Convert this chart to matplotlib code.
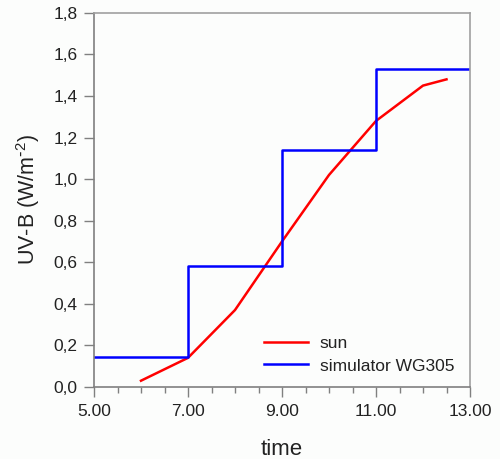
import matplotlib
matplotlib.use("Agg")
import matplotlib.pyplot as plt
from matplotlib.ticker import MultipleLocator, FuncFormatter

plt.rcParams['font.family'] = ['Liberation Sans', 'DejaVu Sans']
plt.rcParams['mathtext.default'] = 'regular'

# Measured UV-B irradiance of natural sunlight
sun_time = [6.0, 7.0, 8.0, 9.0, 10.0, 11.0, 12.0, 12.5]
sun_uvb = [0.03, 0.14, 0.37, 0.70, 1.02, 1.28, 1.45, 1.48]

# Stepwise UV-B program of the simulator (WG305 filter)
sim_time = [5.0, 7.0, 7.0, 9.0, 9.0, 11.0, 11.0, 13.0]
sim_uvb = [0.145, 0.145, 0.58, 0.58, 1.14, 1.14, 1.53, 1.53]

x_ticks = [5, 7, 9, 11, 13]
y_ticks = [0.0, 0.2, 0.4, 0.6, 0.8, 1.0, 1.2, 1.4, 1.6, 1.8]

bg = '#fcfdfc'
fig = plt.figure(figsize=(5.0, 4.59), dpi=100, facecolor=bg)
ax = fig.add_axes([0.188, 0.157, 0.752, 0.815], facecolor=bg)

ax.plot(sun_time, sun_uvb, color='#ff0000', lw=1.8, label='sun')
ax.plot(sim_time, sim_uvb, color='#0000ff', lw=1.8, label='simulator WG305')

ax.set_xlim(5, 13)
ax.set_ylim(0, 1.8)
ax.set_xticks(x_ticks)
ax.xaxis.set_minor_locator(MultipleLocator(0.5))
ax.set_yticks(y_ticks)
ax.xaxis.set_major_formatter(FuncFormatter(lambda v, p: f"{v:.2f}"))
ax.yaxis.set_major_formatter(FuncFormatter(lambda v, p: f"{v:.1f}".replace('.', ',')))

for side in ['left', 'bottom']:
    ax.spines[side].set_color('#808080')
    ax.spines[side].set_linewidth(1.2)
for side in ['top', 'right']:
    ax.spines[side].set_color('#a0a0a0')
    ax.spines[side].set_linewidth(1.2)

ax.tick_params(axis='both', which='major', direction='out', length=7, width=1,
               color='#808080', labelsize=12.5, labelcolor='#222222', pad=5)
ax.tick_params(axis='x', which='minor', direction='out', length=4, width=1, color='#808080')

ax.set_xlabel('time', fontsize=16, color='#222222', labelpad=15)
ax.set_ylabel(r'UV-B (W/m$^{\text{-}2}$)', fontsize=15.5, color='#222222', labelpad=8)

leg = ax.legend(loc='lower right', bbox_to_anchor=(1.0, -0.006), frameon=False,
                fontsize=12.5, handlelength=2.5, handletextpad=0.7, labelspacing=0.45)
for t in leg.get_texts():
    t.set_color('#222222')

fig.savefig('out.png', dpi=100, facecolor=bg)
